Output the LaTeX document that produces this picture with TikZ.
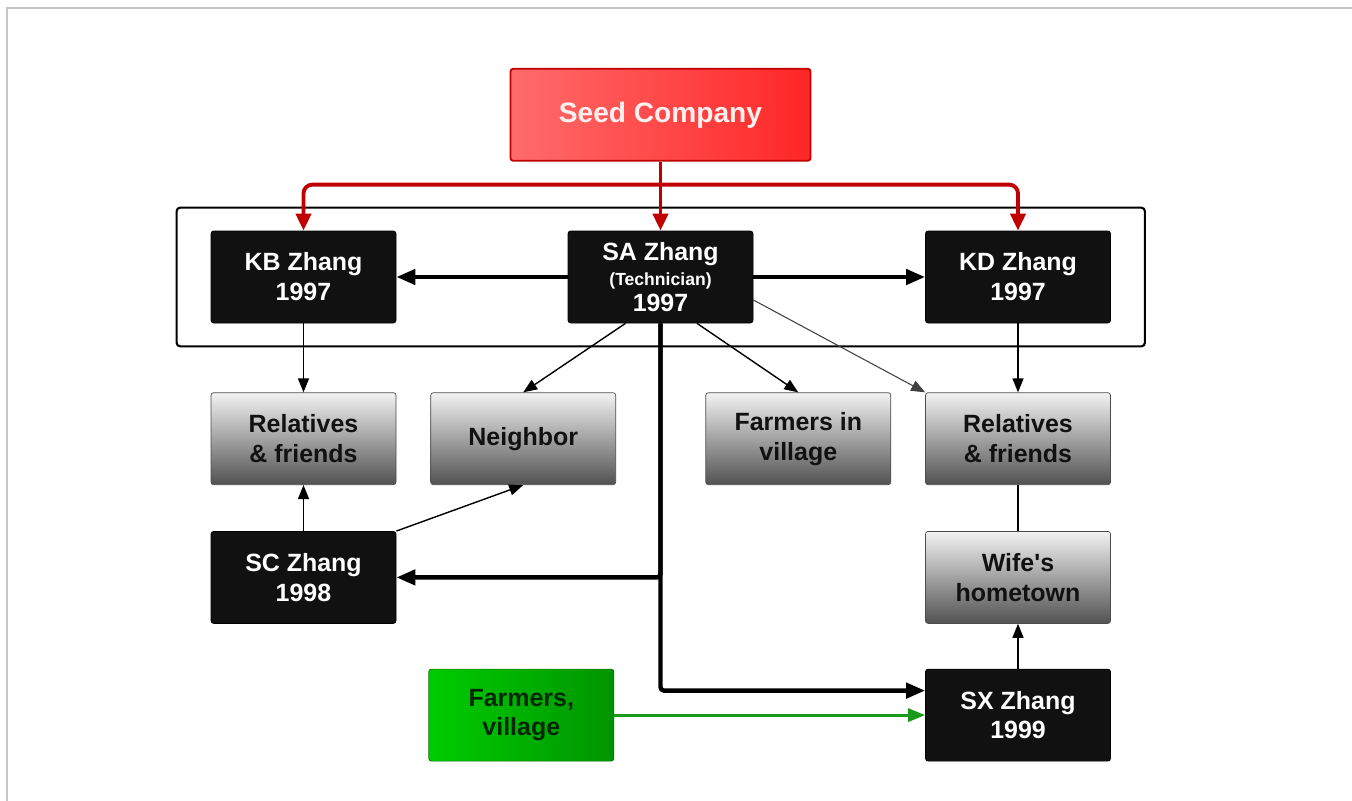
\documentclass[tikz,border=0pt]{standalone}
\usepackage{fontspec}
\setsansfont{Liberation Sans}[Ligatures=TeXOff]
\usetikzlibrary{arrows.meta,positioning,fit}
\definecolor{cred}{HTML}{C00000}
\definecolor{cgreen}{HTML}{1A9A1A}
\definecolor{cblack}{HTML}{111111}

\begin{document}
\begin{tikzpicture}[>={Triangle[length=0.38cm,width=0.3cm]},
  box/.style={rectangle,rounded corners=1.5pt,minimum width=3.7cm,minimum height=1.84cm,
    align=center,font=\sffamily\bfseries\fontsize{14.2}{17}\selectfont},
  black node/.style={box,fill=cblack,draw=black,text=white},
  gray node/.style={box,top color=black!5,bottom color=black!68,draw=black!70,text=cblack},
  green node/.style={box,left color=green!80!black,right color=green!58!black,draw=green!45!black,text=green!15!black},
  seed node/.style={box,minimum width=6cm,left color=red!58!white,right color=red!85!white,
    draw=cred,line width=1pt,text=white!94!red,font=\sffamily\bfseries\fontsize{16}{19}\selectfont},
  red link/.style={-{Triangle[length=0.34cm,width=0.3cm]},cred,line width=2.2pt,rounded corners=5pt},
  thick link/.style={->,line width=2.5pt,rounded corners=2pt},
  thin link/.style={-{Triangle[length=0.28cm,width=0.22cm]},line width=0.8pt},
  green link/.style={-{Triangle[length=0.34cm,width=0.26cm]},cgreen,line width=1.7pt}]

  \useasboundingbox (0,0) rectangle (27.04,-16.02);
  \draw[line width=1.2pt,black!22] (0.14,-16.02) -- (0.14,-0.16) -- (27.04,-0.16);

  \node[black node] (sa) at (13.21,-5.54) {SA Zhang\\[-3pt]{\fontsize{10}{12}\selectfont (Technician)}\\[-2pt]1997};
  \node[black node] (kb) at (6.07,-5.54) {KB Zhang\\1997};
  \node[black node] (kd) at (20.36,-5.54) {KD Zhang\\1997};
  \node[seed node] (seed) [above=1.38cm of sa] {Seed Company};
  \node[draw,line width=1.2pt,rounded corners=2pt,inner xsep=0.68cm,inner ysep=0.46cm,fit=(kb)(kd)] (group) {};

  \node[gray node] (rell) [below=1.38cm of kb] {Relatives\\\& friends};
  \node[gray node] (relr) [below=1.38cm of kd] {Relatives\\\& friends};
  \node[gray node] (nb) [right=0.68cm of rell] {Neighbor};
  \node[gray node] (farm) [left=0.68cm of relr] {Farmers in\\village};
  \node[black node] (sc) [below=0.92cm of rell] {SC Zhang\\1998};
  \node[gray node] (wife) [below=0.92cm of relr] {Wife's\\hometown};
  \node[black node] (sx) [below=0.9cm of wife] {SX Zhang\\1999};
  \node[green node] (farmv) [left=6.22cm of sx] {Farmers,\\village};

  % seed company to the first three
  \coordinate (fork) at ([yshift=-0.46cm]seed.south);
  \draw[red link] (fork) -| (kb.north);
  \draw[red link] (fork) -| (kd.north);
  \draw[red link] (seed.south) -- (sa.north);

  \path[thick link]
    (sa) edge (kb)
    (sa) edge (kd);
  \draw[thick link] (sa.south) |- (sc.east);
  \draw[thick link] (sa.south) |- ([yshift=0.49cm]sx.west);

  \path[thin link]
    ([xshift=-0.7cm]sa.south) edge (nb.north)
    ([xshift=0.73cm]sa.south) edge (farm.north)
    (kb) edge (rell)
    (kd) edge (relr)
    (sc) edge (rell)
    (sc.north east) edge (nb.south)
    (sx) edge (wife);
  \draw[thin link,line width=0.6pt,black!75] ([yshift=-0.46cm]sa.east) -- (relr.north west);
  \draw[line width=0.8pt] (relr) -- (wife);

  \draw[green link] (farmv) -- (sx);
\end{tikzpicture}
\end{document}
